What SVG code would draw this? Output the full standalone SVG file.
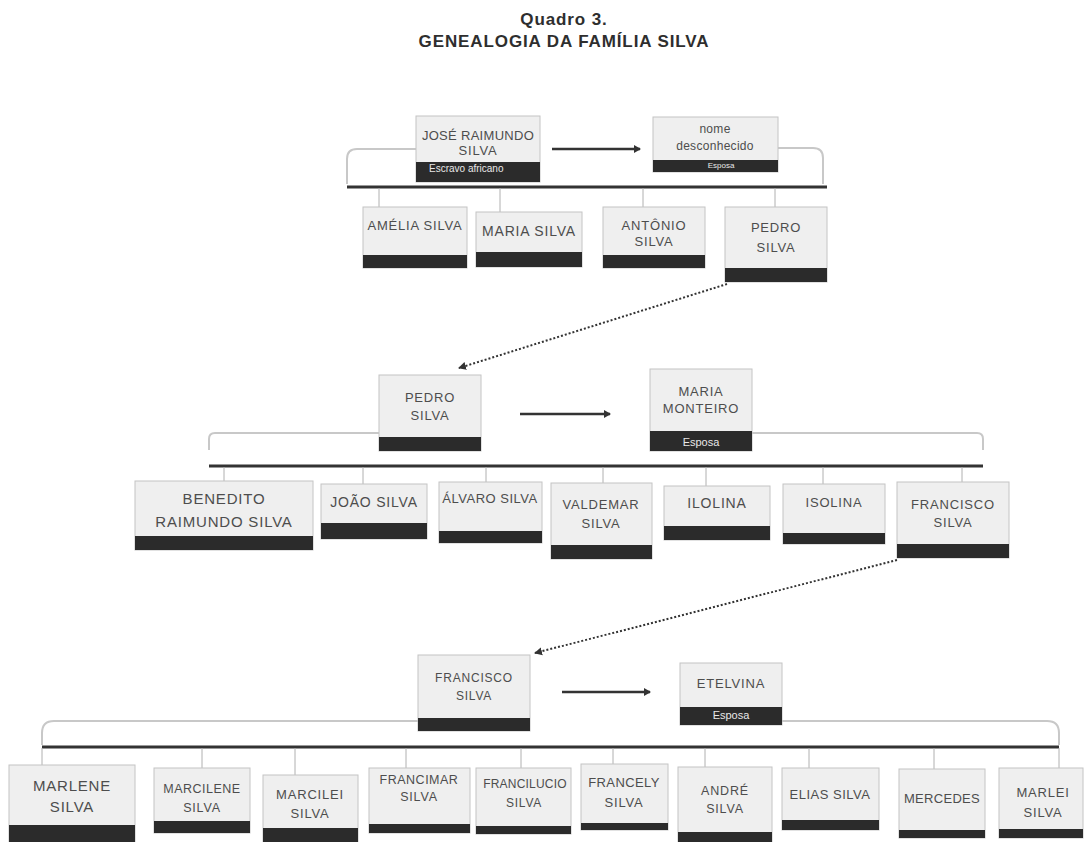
<svg xmlns="http://www.w3.org/2000/svg" width="1084" height="842" viewBox="0 0 1084 842">
<defs>
<style>
.bx{fill:#efefef;stroke:#c4c4c4;stroke-width:1}
.bd{fill:#2b2b2b}
.t{font-family:"Liberation Sans",Arial,sans-serif;fill:#4d4d4d;text-anchor:middle;letter-spacing:0.8px}
.w{font-family:"Liberation Sans",Arial,sans-serif;fill:#e8e8e8;text-anchor:middle}
.br{fill:none;stroke:#c8c8c8;stroke-width:2}
.th{fill:none;stroke:#333;stroke-width:3}
.dr{fill:none;stroke:#b0b0b0;stroke-width:1}
.ar{fill:none;stroke:#333;stroke-width:2.5}
.dt{fill:none;stroke:#333;stroke-width:2;stroke-dasharray:2 2}
.title{font-family:"Liberation Sans",Arial,sans-serif;font-weight:bold;fill:#2e2e2e;text-anchor:middle;font-size:17px;letter-spacing:0.9px}
</style>
<marker id="ah" markerWidth="8" markerHeight="8" refX="6" refY="4" orient="auto" markerUnits="userSpaceOnUse"><path d="M0,0 L7,4 L0,8 Z" fill="#333"/></marker>
<marker id="ad" markerWidth="10" markerHeight="10" refX="7" refY="5" orient="auto" markerUnits="userSpaceOnUse"><path d="M0,1 L8,5 L0,9 Z" fill="#333"/></marker>
</defs>
<rect width="1084" height="842" fill="#ffffff"/>
<text class="title" x="564" y="25">Quadro 3.</text>
<text class="title" x="564" y="47">GENEALOGIA DA FAMÍLIA SILVA</text>

<g id="connectors">
<path class="br" d="M416 149 H357 Q347 149 347 159 V184"/>
<path class="br" d="M778 148 H813 Q823 148 823 158 V184"/>
<path class="th" d="M347 187 H827"/>
<path class="dr" d="M379 188 V207 M500 188 V212 M643 188 V207 M775 188 V207"/>
<path class="ar" d="M552 149 H640" marker-end="url(#ah)"/>
<path class="dt" d="M727 284 L459 368" marker-end="url(#ad)"/>

<path class="br" d="M379 433 H215 Q209 433 209 439 V450"/>
<path class="br" d="M752 433 H977 Q983 433 983 439 V450"/>
<path class="th" d="M209 466 H983"/>
<path class="dr" d="M224 467 V481 M363 467 V484 M486 467 V482 M603 467 V483 M706 467 V486 M823 467 V484 M962 467 V482"/>
<path class="ar" d="M520 414 H610" marker-end="url(#ah)"/>
<path class="dt" d="M897 560 L535 653" marker-end="url(#ad)"/>

<path class="br" d="M418 721 H54 Q42 721 42 733 V745"/>
<path class="br" d="M782 721 H1047 Q1059 721 1059 733 V745"/>
<path class="th" d="M42 747 H1059"/>
<path class="dr" d="M42 748 V765 M202 748 V768 M295 748 V775 M406 748 V768 M521 748 V768 M613 748 V764 M705 748 V767 M809 748 V768 M934 748 V769 M1059 748 V768"/>
<path class="ar" d="M562 692 H650" marker-end="url(#ah)"/>
</g>

<g id="n_jose"><rect class="bx" x="416" y="116" width="124" height="66"/><rect class="bd" x="416" y="162" width="124" height="20"/>
<text class="t" x="478" y="140" font-size="13" style="letter-spacing:0.3px">JOSÉ RAIMUNDO</text><text class="t" x="478" y="155" font-size="13">SILVA</text>
<text class="w" x="429" y="172" font-size="10" style="text-anchor:start">Escravo africano</text></g>
<g id="n_nome"><rect class="bx" x="653" y="117" width="125" height="55"/><rect class="bd" x="653" y="160" width="125" height="12"/>
<text class="t" x="715" y="133" font-size="12" style="letter-spacing:0.3px">nome</text><text class="t" x="715" y="150" font-size="12" style="letter-spacing:0.3px">desconhecido</text>
<text class="w" x="721" y="168" font-size="8">Esposa</text></g>
<g id="n_amelia"><rect class="bx" x="363" y="207" width="104" height="61"/><rect class="bd" x="363" y="255" width="104" height="13"/>
<text class="t" x="415" y="230" font-size="13">AMÉLIA SILVA</text></g>
<g id="n_maria"><rect class="bx" x="476" y="212" width="106" height="55"/><rect class="bd" x="476" y="252" width="106" height="15"/>
<text class="t" x="529" y="236" font-size="14">MARIA SILVA</text></g>
<g id="n_antonio"><rect class="bx" x="603" y="207" width="102" height="61"/><rect class="bd" x="603" y="255" width="102" height="13"/>
<text class="t" x="654" y="230" font-size="13">ANTÔNIO</text><text class="t" x="654" y="246" font-size="13">SILVA</text></g>
<g id="n_pedro1"><rect class="bx" x="725" y="207" width="102" height="75"/><rect class="bd" x="725" y="268" width="102" height="14"/>
<text class="t" x="776" y="232" font-size="13">PEDRO</text><text class="t" x="776" y="252" font-size="13">SILVA</text></g>

<g id="n_pedro2"><rect class="bx" x="379" y="375" width="102" height="76"/><rect class="bd" x="379" y="437" width="102" height="14"/>
<text class="t" x="430" y="402" font-size="13">PEDRO</text><text class="t" x="430" y="420" font-size="13">SILVA</text></g>
<g id="n_mmonteiro"><rect class="bx" x="650" y="369" width="102" height="82"/><rect class="bd" x="650" y="431" width="102" height="20"/>
<text class="t" x="701" y="396" font-size="13">MARIA</text><text class="t" x="701" y="413" font-size="13">MONTEIRO</text>
<text class="w" x="701" y="446" font-size="11">Esposa</text></g>
<g id="n_benedito"><rect class="bx" x="135" y="481" width="178" height="69"/><rect class="bd" x="135" y="536" width="178" height="14"/>
<text class="t" x="224" y="504" font-size="15">BENEDITO</text><text class="t" x="224" y="527" font-size="15">RAIMUNDO SILVA</text></g>
<g id="n_joao"><rect class="bx" x="321" y="484" width="106" height="55"/><rect class="bd" x="321" y="523" width="106" height="16"/>
<text class="t" x="374" y="507" font-size="14">JOÃO SILVA</text></g>
<g id="n_alvaro"><rect class="bx" x="439" y="482" width="103" height="61"/><rect class="bd" x="439" y="531" width="103" height="12"/>
<text class="t" x="490" y="503" font-size="13" style="letter-spacing:0.5px">ÁLVARO SILVA</text></g>
<g id="n_valdemar"><rect class="bx" x="551" y="483" width="101" height="76"/><rect class="bd" x="551" y="545" width="101" height="14"/>
<text class="t" x="601" y="509" font-size="13">VALDEMAR</text><text class="t" x="601" y="528" font-size="13">SILVA</text></g>
<g id="n_ilolina"><rect class="bx" x="664" y="486" width="106" height="54"/><rect class="bd" x="664" y="526" width="106" height="14"/>
<text class="t" x="717" y="508" font-size="14">ILOLINA</text></g>
<g id="n_isolina"><rect class="bx" x="783" y="484" width="102" height="60"/><rect class="bd" x="783" y="533" width="102" height="11"/>
<text class="t" x="834" y="507" font-size="13">ISOLINA</text></g>
<g id="n_francisco2"><rect class="bx" x="897" y="482" width="112" height="76"/><rect class="bd" x="897" y="544" width="112" height="14"/>
<text class="t" x="953" y="509" font-size="13">FRANCISCO</text><text class="t" x="953" y="527" font-size="13">SILVA</text></g>

<g id="n_francisco3"><rect class="bx" x="418" y="655" width="112" height="76"/><rect class="bd" x="418" y="718" width="112" height="13"/>
<text class="t" x="474" y="682" font-size="12">FRANCISCO</text><text class="t" x="474" y="700" font-size="12">SILVA</text></g>
<g id="n_etelvina"><rect class="bx" x="680" y="663" width="102" height="62"/><rect class="bd" x="680" y="707" width="102" height="18"/>
<text class="t" x="731" y="688" font-size="13">ETELVINA</text>
<text class="w" x="731" y="719" font-size="11">Esposa</text></g>
<g id="n_marlene"><rect class="bx" x="9" y="765" width="126" height="80"/><rect class="bd" x="9" y="825" width="126" height="20"/>
<text class="t" x="72" y="791" font-size="15">MARLENE</text><text class="t" x="72" y="812" font-size="15">SILVA</text></g>
<g id="n_marcilene"><rect class="bx" x="154" y="768" width="96" height="65"/><rect class="bd" x="154" y="821" width="96" height="12"/>
<text class="t" x="202" y="793" font-size="12.5" style="letter-spacing:0.5px">MARCILENE</text><text class="t" x="202" y="812" font-size="12.5">SILVA</text></g>
<g id="n_marcilei"><rect class="bx" x="263" y="775" width="95" height="70"/><rect class="bd" x="263" y="828" width="95" height="17"/>
<text class="t" x="310" y="799" font-size="13">MARCILEI</text><text class="t" x="310" y="818" font-size="13">SILVA</text></g>
<g id="n_francimar"><rect class="bx" x="369" y="768" width="101" height="65"/><rect class="bd" x="369" y="824" width="101" height="9"/>
<text class="t" x="419" y="784" font-size="12.5" style="letter-spacing:0.5px">FRANCIMAR</text><text class="t" x="419" y="801" font-size="12.5">SILVA</text></g>
<g id="n_francilucio"><rect class="bx" x="476" y="768" width="95" height="66"/><rect class="bd" x="476" y="826" width="95" height="8"/>
<text class="t" x="525" y="788" font-size="12" style="letter-spacing:0.2px">FRANCILUCIO</text><text class="t" x="524" y="807" font-size="12">SILVA</text></g>
<g id="n_francely"><rect class="bx" x="581" y="764" width="87" height="66"/><rect class="bd" x="581" y="823" width="87" height="7"/>
<text class="t" x="624" y="787" font-size="13" style="letter-spacing:0.4px">FRANCELY</text><text class="t" x="624" y="807" font-size="13">SILVA</text></g>
<g id="n_andre"><rect class="bx" x="678" y="767" width="94" height="78"/><rect class="bd" x="678" y="832" width="94" height="13"/>
<text class="t" x="725" y="795" font-size="12.5">ANDRÉ</text><text class="t" x="725" y="813" font-size="12.5">SILVA</text></g>
<g id="n_elias"><rect class="bx" x="782" y="768" width="97" height="62"/><rect class="bd" x="782" y="820" width="97" height="10"/>
<text class="t" x="830" y="799" font-size="13" style="letter-spacing:0.5px">ELIAS SILVA</text></g>
<g id="n_mercedes"><rect class="bx" x="899" y="769" width="86" height="69"/><rect class="bd" x="899" y="830" width="86" height="8"/>
<text class="t" x="942" y="803" font-size="13" style="letter-spacing:0.3px">MERCEDES</text></g>
<g id="n_marlei"><rect class="bx" x="999" y="768" width="84" height="70"/><rect class="bd" x="999" y="829" width="84" height="9"/>
<text class="t" x="1043" y="797" font-size="13">MARLEI</text><text class="t" x="1043" y="817" font-size="13">SILVA</text></g>
</svg>
